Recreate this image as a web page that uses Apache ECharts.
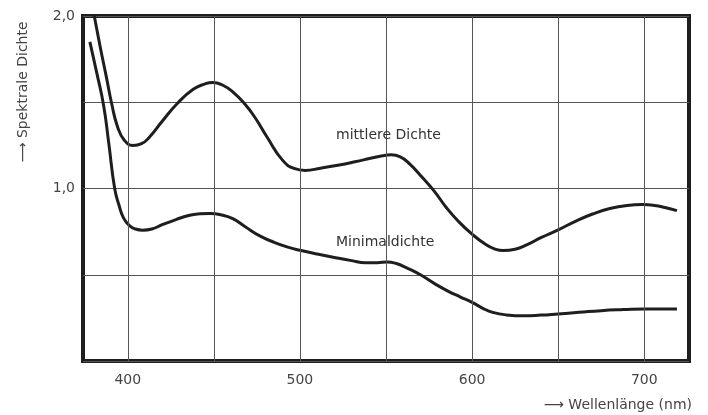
<!DOCTYPE html>
<html>
<head>
<meta charset="utf-8">
<script src="https://cdn.jsdelivr.net/npm/echarts@6/dist/echarts.min.js"></script>
<style>
  html, body { margin: 0; padding: 0; background: #fff; }
  #chart { width: 708px; height: 415px; }
</style>
</head>
<body>
<div id="chart"></div>
<script>
// Spectral density curves (wavelength in nm, density)
const mittlereWl = [379, 384, 387.5, 390.7, 394, 398, 403, 408, 412.8, 420, 428.5, 438, 445, 449.4, 455, 461, 468, 474, 480.8, 490, 497, 503, 512, 522, 532, 541, 548, 553, 558, 564, 571, 578, 585, 592, 600, 608, 613, 618, 625, 632, 640, 650, 660, 670, 680, 690, 699, 706, 712, 719];
const mittlereD  = [2.08, 1.82, 1.65, 1.49, 1.36, 1.28, 1.25, 1.26, 1.30, 1.39, 1.49, 1.575, 1.607, 1.615, 1.60, 1.56, 1.49, 1.41, 1.30, 1.163, 1.115, 1.105, 1.118, 1.135, 1.155, 1.175, 1.19, 1.195, 1.185, 1.14, 1.065, 0.985, 0.89, 0.81, 0.735, 0.675, 0.65, 0.64, 0.648, 0.675, 0.715, 0.76, 0.81, 0.852, 0.884, 0.902, 0.907, 0.902, 0.89, 0.872];

const minimalWl = [378, 382, 386, 389, 392.4, 395, 397.5, 401, 404.5, 408.7, 414, 420, 428, 436, 442, 447.7, 454, 461, 468, 476.7, 485, 493, 500, 510, 520, 530, 538, 545, 550.6, 556, 562, 570, 578, 586, 593, 600, 606, 612, 620, 630, 640, 650, 662, 675, 688, 700, 710, 719];
const minimalD  = [1.85, 1.67, 1.48, 1.26, 1.00, 0.90, 0.83, 0.785, 0.765, 0.758, 0.765, 0.79, 0.82, 0.845, 0.853, 0.855, 0.848, 0.825, 0.78, 0.725, 0.688, 0.66, 0.642, 0.62, 0.60, 0.582, 0.57, 0.57, 0.574, 0.565, 0.54, 0.50, 0.45, 0.405, 0.372, 0.34, 0.307, 0.282, 0.267, 0.262, 0.266, 0.273, 0.282, 0.292, 0.298, 0.302, 0.302, 0.302];

// Axis ticks and grid positions
const xTickLabels = [400, 500, 600, 700];
const xGridLines  = [400, 450, 500, 550, 600, 650, 700];
const yTickLabels = { 1: '1,0', 2: '2,0' };

const curveNames = ['mittlere Dichte', 'Minimaldichte'];
const xAxisName = '⟶ Wellenlänge (nm)';
const yAxisName = '⟶ Spektrale Dichte';

const pairs = (xs, ys) => xs.map((x, i) => [x, ys[i]]);

const FONT = 'DejaVu Sans';
const TEXT_COLOR = '#444';
const INK = '#1e1e1e';

const chart = echarts.init(document.getElementById('chart'), null, { renderer: 'canvas' });

chart.setOption({
  animation: false,
  backgroundColor: '#fff',
  grid: {
    left: 83, right: 19, top: 16, bottom: 54,
    show: true,
    borderColor: INK,
    borderWidth: 4,
    backgroundColor: 'transparent'
  },
  xAxis: {
    type: 'value',
    min: 374,
    max: 726,
    axisLine: { show: false },
    axisTick: { show: false },
    splitLine: { show: false },
    axisLabel: {
      customValues: xTickLabels,
      margin: 12,
      color: TEXT_COLOR,
      fontFamily: FONT,
      fontSize: 14
    }
  },
  yAxis: {
    type: 'value',
    min: 0,
    max: 2,
    interval: 0.5,
    axisLine: { show: false },
    axisTick: { show: false },
    splitLine: { show: true, lineStyle: { color: '#555', width: 1 } },
    axisLabel: {
      margin: 8,
      color: TEXT_COLOR,
      fontFamily: FONT,
      fontSize: 14,
      formatter: v => yTickLabels[v] || ''
    }
  },
  graphic: [
    {
      type: 'text', x: 692, y: 405, z: 10,
      style: { text: xAxisName, fill: TEXT_COLOR, font: '14px "DejaVu Sans"', textAlign: 'right', textVerticalAlign: 'middle' }
    },
    {
      type: 'text', x: 23, y: 92, rotation: Math.PI / 2, z: 10,
      style: { text: yAxisName, fill: TEXT_COLOR, font: '14px "DejaVu Sans"', textAlign: 'center', textVerticalAlign: 'middle' }
    },
    {
      type: 'text', x: 336, y: 135, z: 10,
      style: { text: curveNames[0], fill: '#333', font: '14px "DejaVu Sans"', textAlign: 'left', textVerticalAlign: 'middle' }
    },
    {
      type: 'text', x: 336, y: 242, z: 10,
      style: { text: curveNames[1], fill: '#333', font: '14px "DejaVu Sans"', textAlign: 'left', textVerticalAlign: 'middle' }
    }
  ],
  series: [
    {
      type: 'line',
      data: [],
      z: 1,
      silent: true,
      markLine: {
        silent: true,
        symbol: 'none',
        label: { show: false },
        lineStyle: { color: '#555', width: 1, type: 'solid' },
        data: xGridLines.map(v => ({ xAxis: v }))
      }
    },
    {
      name: curveNames[0],
      type: 'line',
      data: pairs(mittlereWl, mittlereD),
      smooth: 0.5,
      showSymbol: false,
      clip: true,
      z: 3,
      lineStyle: { color: INK, width: 3 }
    },
    {
      name: curveNames[1],
      type: 'line',
      data: pairs(minimalWl, minimalD),
      smooth: 0.5,
      showSymbol: false,
      clip: true,
      z: 3,
      lineStyle: { color: INK, width: 3 }
    }
  ]
});
</script>
</body>
</html>
